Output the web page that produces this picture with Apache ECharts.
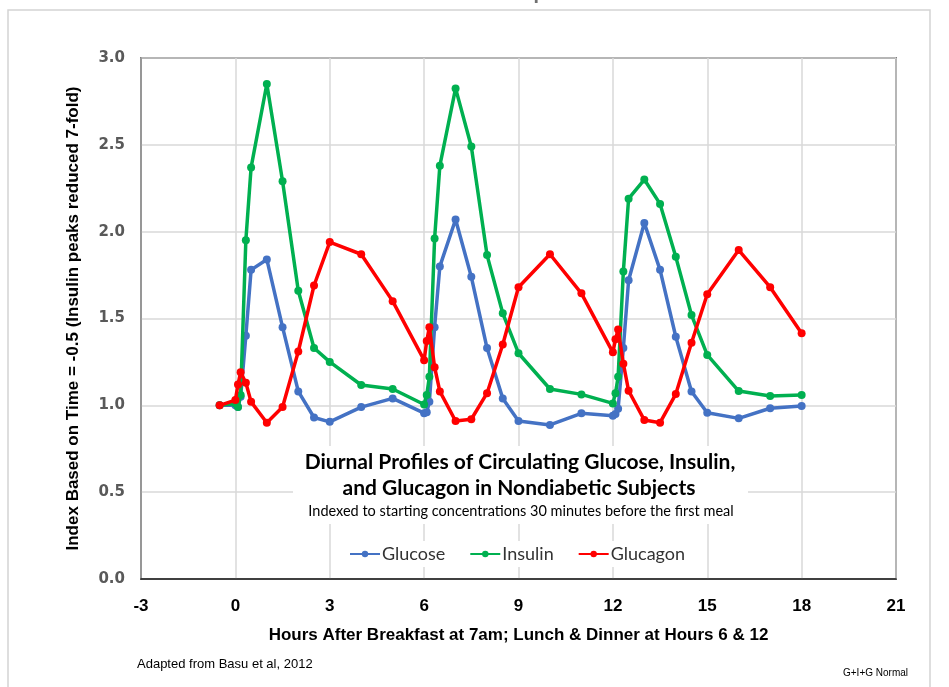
<!DOCTYPE html>
<html>
<head>
<meta charset="utf-8">
<script src="https://cdn.jsdelivr.net/npm/echarts@6/dist/echarts.min.js"></script>
<style>
html,body{margin:0;padding:0;background:#fff;}
#chart{width:949px;height:687px;}
</style>
</head>
<body>
<div id="chart"></div>
<script>
// Hours after breakfast (shared sampling times)
const hours = [-0.5, 0, 0.083, 0.167, 0.333, 0.5, 1, 1.5, 2, 2.5, 3, 4, 5,
  6, 6.083, 6.167, 6.333, 6.5, 7, 7.5, 8, 8.5, 9, 10, 11,
  12, 12.083, 12.167, 12.333, 12.5, 13, 13.5, 14, 14.5, 15, 16, 17, 18];

const glucose = [1.00, 1.00, 0.99, 1.05, 1.40, 1.78, 1.84, 1.45, 1.08, 0.93, 0.905, 0.99, 1.04,
  0.955, 0.96, 1.02, 1.45, 1.80, 2.07, 1.74, 1.33, 1.04, 0.91, 0.887, 0.954,
  0.94, 0.95, 0.98, 1.33, 1.72, 2.05, 1.78, 1.395, 1.08, 0.957, 0.925, 0.983, 0.996];

const insulin = [1.00, 1.01, 0.99, 1.06, 1.95, 2.37, 2.85, 2.29, 1.66, 1.33, 1.25, 1.117, 1.094,
  1.005, 1.06, 1.165, 1.96, 2.38, 2.825, 2.49, 1.865, 1.53, 1.30, 1.094, 1.063,
  1.011, 1.07, 1.165, 1.77, 2.19, 2.30, 2.16, 1.855, 1.52, 1.29, 1.082, 1.054, 1.06];

const glucagon = [1.00, 1.03, 1.12, 1.19, 1.13, 1.02, 0.90, 0.99, 1.31, 1.69, 1.94, 1.87, 1.60,
  1.26, 1.37, 1.45, 1.22, 1.08, 0.91, 0.92, 1.07, 1.35, 1.68, 1.87, 1.645,
  1.305, 1.38, 1.437, 1.24, 1.084, 0.915, 0.90, 1.065, 1.36, 1.64, 1.894, 1.68, 1.415];

const seriesNames = ['Glucose', 'Insulin', 'Glucagon'];
const seriesColors = ['#4472C4', '#00B050', '#FF0000'];
const seriesValues = [glucose, insulin, glucagon];

const titleLine1 = 'Diurnal Profiles of Circulating Glucose, Insulin,';
const titleLine2 = 'and Glucagon in Nondiabetic Subjects';
const subTitle = 'Indexed to starting concentrations 30 minutes before the first meal';
const xTitle = 'Hours After Breakfast at 7am; Lunch & Dinner at Hours 6 & 12';
const yTitle = 'Index Based on Time = -0.5 (Insulin peaks reduced 7-fold)';
const topTitle = 'Normalized diurnal profiles';
const sourceNote = 'Adapted from Basu et al, 2012';
const cornerNote = 'G+I+G Normal';

const chart = echarts.init(document.getElementById('chart'));
const narrow = '"Liberation Sans Narrow", "Liberation Sans", sans-serif';
const human = 'Lato, "Open Sans", sans-serif';

const series = seriesNames.map((n, i) => ({
  name: n,
  type: 'line',
  data: hours.map((h, k) => [h, seriesValues[i][k]]),
  symbol: 'circle',
  symbolSize: 8,
  itemStyle: {color: seriesColors[i]},
  lineStyle: {color: seriesColors[i], width: 3.5},
  z: 3 + i,
  animation: false
}));

chart.setOption({
  animation: false,
  grid: {left: 141, right: 53, top: 58, bottom: 108, show: true, borderColor: '#1a1a1a', borderWidth: 1.5, containLabel: false},
  xAxis: {
    type: 'value', min: -3, max: 21, interval: 3,
    axisLine: {show: true, onZero: false, lineStyle: {color: '#1a1a1a', width: 1.5}},
    axisTick: {show: false},
    splitLine: {show: true, lineStyle: {color: '#d9d9d9', width: 1.5}},
    axisLabel: {color: '#000', fontFamily: narrow, fontWeight: 'bold', fontSize: 17, margin: 19},
    name: xTitle, nameLocation: 'middle', nameGap: 48,
    nameTextStyle: {color: '#000', fontFamily: narrow, fontWeight: 'bold', fontSize: 17}
  },
  yAxis: {
    type: 'value', min: 0, max: 3, interval: 0.5,
    axisLine: {show: true, onZero: false, lineStyle: {color: '#8c8c8c', width: 1.5}},
    axisTick: {show: false},
    splitLine: {show: true, lineStyle: {color: '#d9d9d9', width: 1.5}},
    axisLabel: {color: '#595959', fontFamily: '"DejaVu Sans", sans-serif', fontWeight: 'bold', fontSize: 15, margin: 16,
      formatter: v => v.toFixed(1)},
    name: yTitle, nameLocation: 'middle', nameGap: 59, nameRotate: 90,
    nameTextStyle: {color: '#000', fontFamily: narrow, fontWeight: 'bold', fontSize: 17}
  },
  legend: {
    data: seriesNames, top: 541, left: 343, itemGap: 24, itemWidth: 30, itemHeight: 8,
    textStyle: {color: '#333', fontFamily: human, fontSize: 18, padding: [0, 0, 0, -3]},
    backgroundColor: '#fff', padding: [4, 6]
  },
  graphic: [
    {type: 'rect', shape: {x: 8, y: 10, width: 922, height: 700}, style: {fill: 'none', stroke: '#d4d4d4', lineWidth: 1.5}, z: -10, silent: true},
    {type: 'text', left: 'center', top: -19, style: {text: topTitle, fill: '#707070', font: 'bold 22px ' + human}, z: 10},
    {type: 'rect', shape: {x: 293, y: 446, width: 455, height: 78}, style: {fill: '#fff'}, z: 50},
    {type: 'text', x: 520, y: 462, style: {text: titleLine1, fill: '#000', font: 'bold 21px ' + human, align: 'center', verticalAlign: 'middle'}, z: 60},
    {type: 'text', x: 519, y: 488, style: {text: titleLine2, fill: '#000', font: 'bold 21px ' + human, align: 'center', verticalAlign: 'middle'}, z: 60},
    {type: 'text', x: 521, y: 511, style: {text: subTitle, fill: '#000', font: '14.5px ' + human, align: 'center', verticalAlign: 'middle'}, z: 60},
    {type: 'text', x: 137, y: 664, style: {text: sourceNote, fill: '#000', font: '13px ' + narrow, verticalAlign: 'middle'}, z: 60},
    {type: 'text', x: 843, y: 673, style: {text: cornerNote, fill: '#000', font: '10px ' + narrow, verticalAlign: 'middle'}, z: 60}
  ],
  series: series
});
</script>
</body>
</html>
